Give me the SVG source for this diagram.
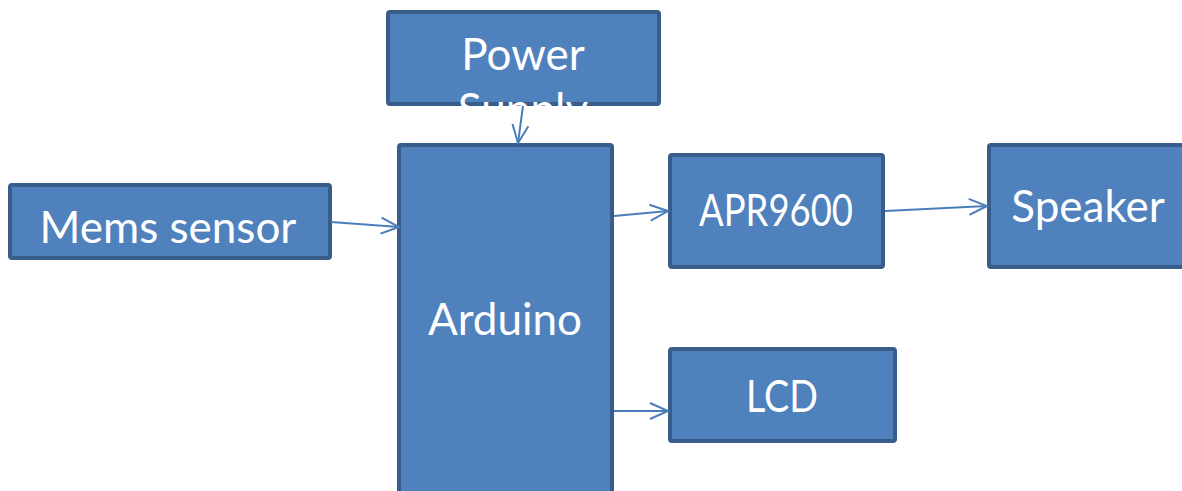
<svg xmlns="http://www.w3.org/2000/svg" width="1182" height="491" viewBox="0 0 1182 491">
<style>
.box{fill:#4F81BD;stroke:#385D8A;stroke-width:4}
.lbl{fill:#FFFFFF;font-family:Lato,"Open Sans",sans-serif;font-size:44px;text-anchor:middle}
.con{stroke:#4A7EBB;stroke-width:2;fill:none;marker-end:url(#arr)}
</style>
<defs>
<marker id="arr" markerUnits="userSpaceOnUse" markerWidth="24" markerHeight="24" viewBox="0 0 24 24" refX="20" refY="12" orient="auto">
<path d="M2,4 L20,12 L2,20" fill="none" stroke="#4A7EBB" stroke-width="2"/>
</marker>
</defs>
<rect width="1182" height="491" fill="#FFFFFF"/>
<g id="power">
<rect class="box" x="388" y="12" width="271" height="92" rx="2"/>
<text class="lbl" x="523" y="70">Power</text>
<text class="lbl" x="523" y="125">Supply</text>
</g>
<g id="mems">
<rect class="box" x="10" y="185" width="320" height="73" rx="2"/>
<text class="lbl" x="168" y="243">Mems sensor</text>
</g>
<g id="arduino">
<rect class="box" x="399" y="145" width="213" height="360" rx="2"/>
<text class="lbl" x="505" y="335">Arduino</text>
</g>
<g id="apr9600">
<rect class="box" x="670" y="155" width="213" height="112" rx="2"/>
<text class="lbl" x="776" y="226" font-size="42" textLength="154" lengthAdjust="spacingAndGlyphs">APR9600</text>
</g>
<g id="speaker">
<rect class="box" x="989" y="145" width="200" height="122" rx="2"/>
<text class="lbl" x="1088" y="222">Speaker</text>
</g>
<g id="lcd">
<rect class="box" x="670" y="349" width="225" height="92" rx="2"/>
<text class="lbl" x="782" y="412" textLength="72" lengthAdjust="spacingAndGlyphs">LCD</text>
</g>
<g id="connectors">
<line class="con" x1="523" y1="106" x2="518" y2="143"/>
<line class="con" x1="331" y1="222" x2="399" y2="227"/>
<line class="con" x1="614" y1="216" x2="668" y2="211"/>
<line class="con" x1="885" y1="211" x2="987" y2="206"/>
<line class="con" x1="614" y1="411" x2="668" y2="411"/>
</g>
</svg>
